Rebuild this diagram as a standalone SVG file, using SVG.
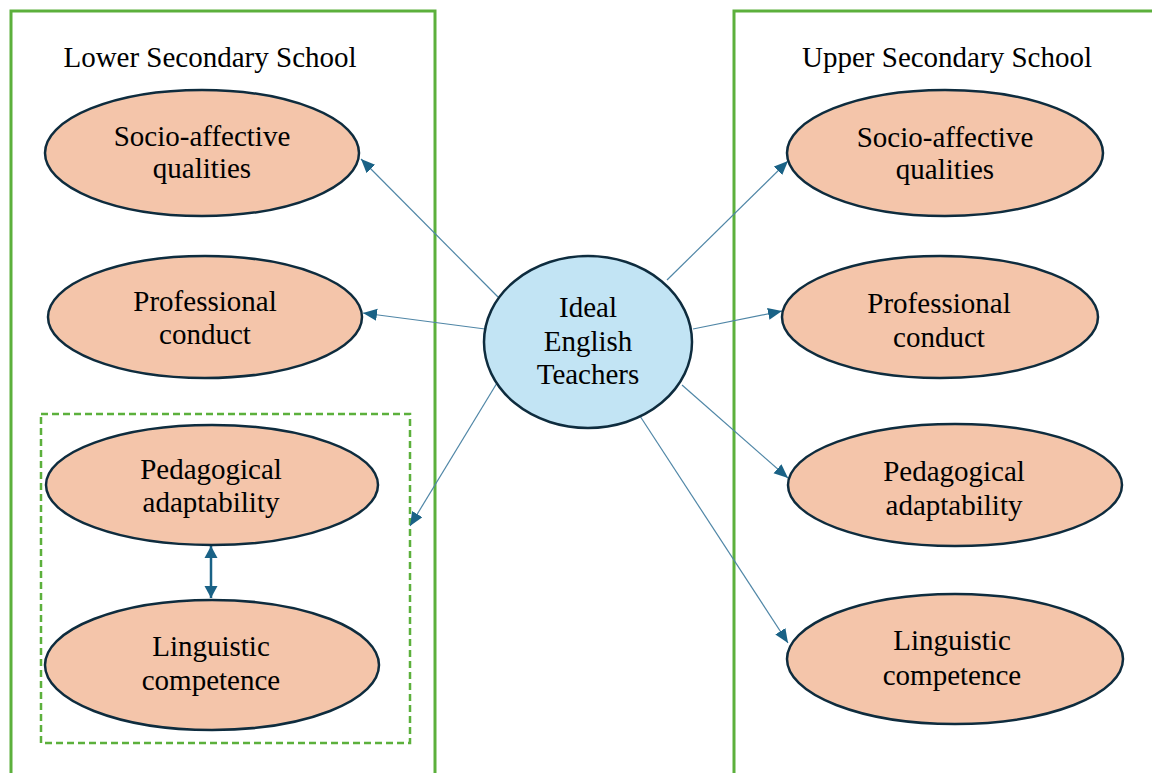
<svg xmlns="http://www.w3.org/2000/svg" width="1152" height="773" viewBox="0 0 1152 773">
<defs>
<style>
.box{fill:none;stroke:#5cb03c;stroke-width:3}
.dash{fill:none;stroke:#5cb03c;stroke-width:2.5;stroke-dasharray:7 4}
.node{fill:#f4c5aa;stroke:#0e2c3e;stroke-width:2.5}
.center{fill:#c2e4f4;stroke:#0e2c3e;stroke-width:2.5}
.lbl{font-family:"Liberation Serif","Times New Roman",serif;font-size:29px;fill:#000;text-anchor:middle}
.conn{stroke:#4f86a6;stroke-width:1.2;fill:none;marker-end:url(#ah)}
.dbl{stroke:#1a6286;stroke-width:2.5;fill:none;marker-start:url(#ah2s);marker-end:url(#ah2)}
</style>
<marker id="ah" markerUnits="userSpaceOnUse" markerWidth="16" markerHeight="14" refX="14" refY="6" orient="auto">
<path d="M0,0 L14,6 L0,12 z" fill="#1a6286"/>
</marker>
<marker id="ah2" markerUnits="userSpaceOnUse" markerWidth="14" markerHeight="14" refX="12" refY="6.5" orient="auto">
<path d="M0,0 L12,6.5 L0,13 z" fill="#1a6286"/>
</marker>
<marker id="ah2s" markerUnits="userSpaceOnUse" markerWidth="14" markerHeight="14" refX="0" refY="6.5" orient="auto">
<path d="M12,0 L0,6.5 L12,13 z" fill="#1a6286"/>
</marker>
</defs>
<rect width="1152" height="773" fill="#fff"/>

<g id="lower-school">
<rect class="box" x="11" y="11" width="424" height="780"/>
<text class="lbl" x="210" y="67">Lower Secondary School</text>
</g>
<g id="upper-school">
<rect class="box" x="734" y="11" width="440" height="780"/>
<text class="lbl" x="947" y="67">Upper Secondary School</text>
</g>
<g id="lower-group">
<rect class="dash" x="41" y="414" width="369" height="329"/>
</g>

<g id="connectors">
<line class="conn" x1="498" y1="297" x2="361" y2="159"/>
<line class="conn" x1="485" y1="329" x2="363" y2="313"/>
<line class="conn" x1="497" y1="383" x2="410" y2="526"/>
<line class="conn" x1="667" y1="280" x2="788" y2="161"/>
<line class="conn" x1="693" y1="329" x2="782" y2="311"/>
<line class="conn" x1="682" y1="385" x2="788" y2="478"/>
<line class="conn" x1="638" y1="413" x2="788" y2="643"/>
<line class="dbl" x1="211" y1="546" x2="211" y2="598"/>
</g>

<g id="lower-socio">
<ellipse class="node" cx="202" cy="153" rx="157" ry="63"/>
<text class="lbl" x="202" y="146">Socio-affective</text>
<text class="lbl" x="202" y="178">qualities</text>
</g>
<g id="lower-professional">
<ellipse class="node" cx="205" cy="317" rx="157" ry="61"/>
<text class="lbl" x="205" y="311">Professional</text>
<text class="lbl" x="205" y="344">conduct</text>
</g>
<g id="lower-pedagogical">
<ellipse class="node" cx="212" cy="485" rx="166" ry="60"/>
<text class="lbl" x="211" y="479">Pedagogical</text>
<text class="lbl" x="211" y="512">adaptability</text>
</g>
<g id="lower-linguistic">
<ellipse class="node" cx="212" cy="665" rx="167" ry="65"/>
<text class="lbl" x="211" y="656">Linguistic</text>
<text class="lbl" x="211" y="690">competence</text>
</g>

<g id="ideal-teachers">
<ellipse class="center" cx="588" cy="342" rx="104" ry="86"/>
<text class="lbl" x="588" y="317">Ideal</text>
<text class="lbl" x="588" y="351">English</text>
<text class="lbl" x="588" y="384">Teachers</text>
</g>

<g id="upper-socio">
<ellipse class="node" cx="945" cy="153" rx="158" ry="63"/>
<text class="lbl" x="945" y="147">Socio-affective</text>
<text class="lbl" x="945" y="179">qualities</text>
</g>
<g id="upper-professional">
<ellipse class="node" cx="940" cy="317" rx="158" ry="61"/>
<text class="lbl" x="939" y="313">Professional</text>
<text class="lbl" x="939" y="347">conduct</text>
</g>
<g id="upper-pedagogical">
<ellipse class="node" cx="955" cy="485" rx="167" ry="61"/>
<text class="lbl" x="954" y="481">Pedagogical</text>
<text class="lbl" x="954" y="515">adaptability</text>
</g>
<g id="upper-linguistic">
<ellipse class="node" cx="955" cy="659" rx="168" ry="65"/>
<text class="lbl" x="952" y="650">Linguistic</text>
<text class="lbl" x="952" y="685">competence</text>
</g>
</svg>
